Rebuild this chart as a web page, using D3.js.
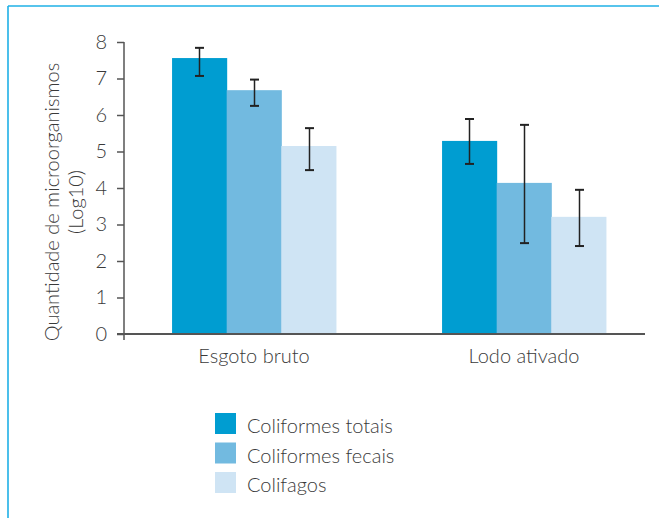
<!DOCTYPE html>
<html>
<head>
<meta charset="utf-8">
<script src="https://cdn.jsdelivr.net/npm/d3@7"></script>
<style>
  html, body { margin: 0; padding: 0; background: #fff; }
  svg { display: block; }
  text { font-family: Lato, "Open Sans", sans-serif; font-weight: 300; fill: #3a3a3a; }
</style>
</head>
<body>
<script>
// Microorganism counts (log10) by treatment stage
const categories = ["Esgoto bruto", "Lodo ativado"];
const seriesNames = ["Coliformes totais", "Coliformes fecais", "Colifagos"];
const meanTotais = [7.56, 5.29];
const meanFecais = [6.68, 4.14];
const meanColifagos = [5.15, 3.21];
const upperTotais = [7.84, 5.89];
const upperFecais = [6.97, 5.73];
const upperColifagos = [5.64, 3.95];
const lowerTotais = [7.07, 4.66];
const lowerFecais = [6.25, 2.49];
const lowerColifagos = [4.49, 2.41];
const yTicks = [0, 1, 2, 3, 4, 5, 6, 7, 8];
const colors = ["#009dd1", "#72bae0", "#cfe4f4"];

const means = [meanTotais, meanFecais, meanColifagos];
const uppers = [upperTotais, upperFecais, upperColifagos];
const lowers = [lowerTotais, lowerFecais, lowerColifagos];

const rows = [];
categories.forEach((c, ci) => {
  seriesNames.forEach((s, si) => {
    rows.push({ cat: c, series: s, si, value: means[si][ci], hi: uppers[si][ci], lo: lowers[si][ci] });
  });
});

const W = 659, H = 518;
const svg = d3.select("body").append("svg").attr("width", W).attr("height", H);

// frame lines (top and left)
svg.append("line").attr("x1", 8).attr("x2", W).attr("y1", 6).attr("y2", 6)
  .attr("stroke", "#1fb0e6").attr("stroke-width", 1.6);
svg.append("line").attr("x1", 8).attr("x2", 8).attr("y1", 6).attr("y2", H)
  .attr("stroke", "#1fb0e6").attr("stroke-width", 1.6);

const y = d3.scaleLinear().domain([0, 8]).range([334, 42]);
const x0 = d3.scaleBand().domain(categories).range([124, 654])
  .paddingInner(0.393).paddingOuter(0.178);
const x1 = d3.scaleBand().domain(seriesNames).range([0, x0.bandwidth()]);

// bars
svg.append("g").selectAll("rect").data(rows).join("rect")
  .attr("x", d => x0(d.cat) + x1(d.series))
  .attr("width", x1.bandwidth() + 0.5)
  .attr("y", d => y(d.value))
  .attr("height", d => y(0) - y(d.value))
  .attr("fill", d => colors[d.si]);

// error bars
const eb = svg.append("g").attr("stroke", "#222");
rows.forEach(d => {
  const cx = Math.round(x0(d.cat) + x1(d.series) + x1.bandwidth() / 2) + 0.5;
  eb.append("line").attr("x1", cx).attr("x2", cx).attr("y1", y(d.hi)).attr("y2", y(d.lo)).attr("stroke-width", 1.5);
  eb.append("line").attr("x1", cx - 4.5).attr("x2", cx + 4.5).attr("y1", y(d.hi)).attr("y2", y(d.hi)).attr("stroke-width", 2);
  eb.append("line").attr("x1", cx - 4.5).attr("x2", cx + 4.5).attr("y1", y(d.lo)).attr("y2", y(d.lo)).attr("stroke-width", 2);
});

// y axis
const yAxis = svg.append("g").attr("transform", "translate(124,0)")
  .call(d3.axisLeft(y).tickValues(yTicks).tickSize(7).tickPadding(10).tickFormat(d3.format("d")));
yAxis.select(".domain").remove();
yAxis.selectAll(".tick line").attr("stroke", "#555").attr("stroke-width", 1.5);
yAxis.selectAll(".tick text").attr("font-size", 20).style("font-family", "Lato, sans-serif").attr("fill", "#3a3a3a");
svg.append("line").attr("x1", 124).attr("x2", 124).attr("y1", 42).attr("y2", 340)
  .attr("stroke", "#555").attr("stroke-width", 1.5);

// baseline
svg.append("line").attr("x1", 117).attr("x2", 645).attr("y1", y(0)).attr("y2", y(0))
  .attr("stroke", "#555").attr("stroke-width", 2);

// category labels
svg.append("g").selectAll("text").data(categories).join("text")
  .attr("x", d => x0(d) + x0.bandwidth() / 2)
  .attr("y", 363)
  .attr("text-anchor", "middle")
  .attr("font-size", 20)
  .text(d => d);

// y axis title
const yt = svg.append("text").attr("transform", "rotate(-90)")
  .attr("text-anchor", "middle").attr("font-size", 20);
yt.append("tspan").attr("x", -202).attr("y", 59).text("Quantidade de microorganismos");
yt.append("tspan").attr("x", -202).attr("y", 83).text("(Log10)");

// legend
const lg = svg.append("g").attr("transform", "translate(215,413)");
seriesNames.forEach((s, i) => {
  const g = lg.append("g").attr("transform", `translate(0,${i * 29.5})`);
  g.append("rect").attr("width", 21).attr("height", 21).attr("fill", colors[i]);
  g.append("text").attr("x", 32).attr("y", 20).attr("font-size", 20).text(s);
});
</script>
</body>
</html>
